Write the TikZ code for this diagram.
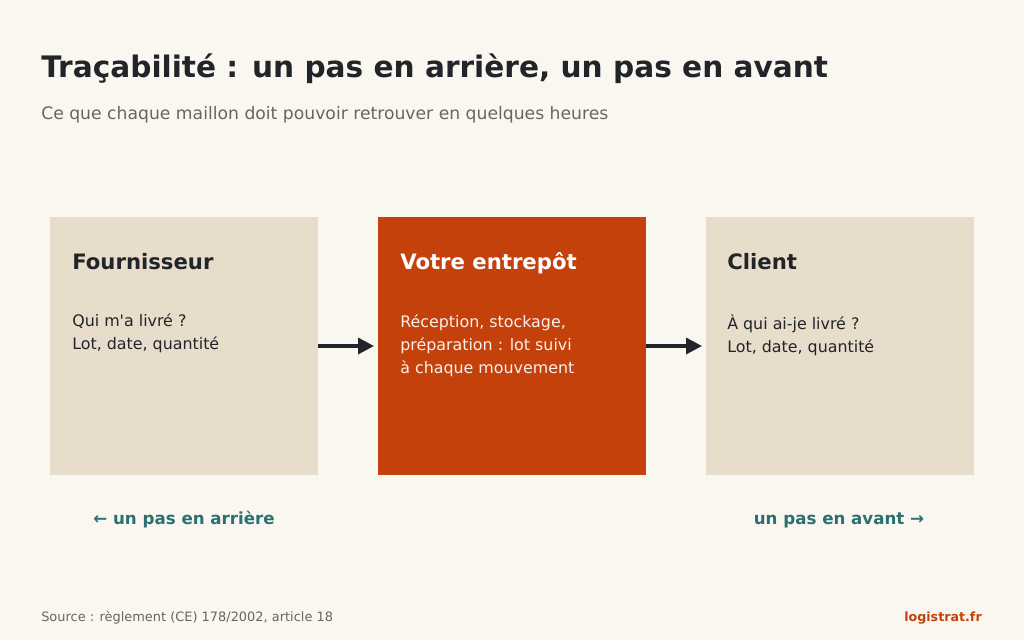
\documentclass[tikz,border=0pt]{standalone}
\usepackage{fontspec}
\setmainfont{DejaVu Sans}
\usepackage{tikz}
\usetikzlibrary{arrows.meta,positioning}

\definecolor{pagebg}{HTML}{FAF7F1}
\definecolor{sand}{HTML}{E8DCCB}
\definecolor{rust}{HTML}{C4410C}
\definecolor{ink}{HTML}{212428}
\definecolor{greytxt}{HTML}{6B6360}
\definecolor{teal}{HTML}{2A7070}

\begin{document}
\begin{tikzpicture}[x=0.75pt,y=-0.75pt,
    box/.style={minimum width=201pt,minimum height=193.5pt,inner sep=0pt,outer sep=0pt,anchor=north west},
    boxtitle/.style={anchor=base west,inner sep=0pt,font=\fontsize{15.9}{19}\selectfont\bfseries},
    boxbody/.style={anchor=north west,inner sep=0pt,align=left,font=\fontsize{11.9}{17.3}\selectfont},
    flow/.style={-{Triangle[length=12pt,width=12pt]},line width=2.5pt,ink,shorten >=3pt},
    stepnote/.style={inner sep=0pt,anchor=base,teal,font=\fontsize{12.5}{15}\selectfont\bfseries}]
            % Background
            \fill [pagebg] (0,0) rectangle (1024,640);
            \useasboundingbox (0,0) rectangle (1024,640);

            % Title
            \node [anchor=base west,inner sep=0pt,ink,font=\fontsize{22.2}{26}\selectfont\bfseries] (title) at (41,77) {Traçabilité : un pas en arrière, un pas en avant};
            \node [anchor=base west,inner sep=0pt,greytxt,font=\fontsize{12.9}{15}\selectfont] (subtitle) at (41,119) {Ce que chaque maillon doit pouvoir retrouver en quelques heures};

            % Chain boxes
            \node [box,fill=sand] (sup) at (50,217) {};
            \node [box,fill=rust] (wh) at (378,217) {};
            \node [box,fill=sand] (cli) at (706,217) {};

            % Box texts (body lines have struts, so the top sits 16px over the first baseline)
            \node [boxtitle,ink] (suptitle) at (72,269) {Fournisseur};
            \node [boxbody,ink] (supbody) at (72,310) {\strut Qui m\textquotesingle a livré ?\\\strut Lot, date, quantité};
            \node [boxtitle,white] (whtitle) at (400,269) {Votre entrepôt};
            \node [boxbody,white!92!rust] (whbody) at (400,311) {\strut Réception, stockage,\\\strut préparation : lot suivi\\\strut à chaque mouvement};
            \node [boxtitle,ink] (clititle) at (727,269) {Client};
            \node [boxbody,ink] (clibody) at (727,313) {\strut À qui ai-je livré ?\\\strut Lot, date, quantité};

            % Flow arrows
            \draw [flow] (sup.east) -- (wh.west);
            \draw [flow] (wh.east) -- (cli.west);

            % Direction notes
            \node [stepnote] (back) at (184,524) {← un pas en arrière};
            \node [stepnote] (fwd) at (839,524) {un pas en avant →};

            % Footer
            \node [anchor=base west,inner sep=0pt,greytxt,font=\fontsize{9.7}{12}\selectfont] (source) at (41,621) {Source : règlement (CE) 178/2002, article 18};
            \node [anchor=base east,inner sep=0pt,rust,font=\fontsize{9.5}{12}\selectfont\bfseries] (brand) at (982,621) {logistrat.fr};
        \end{tikzpicture}
\end{document}
